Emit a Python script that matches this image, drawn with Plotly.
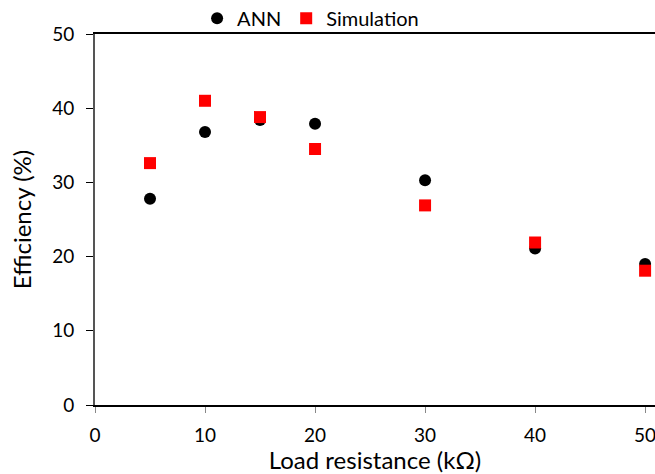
import plotly.graph_objects as go

load_kohm = [5, 10, 15, 20, 30, 40, 50]
ann_eff = [27.8, 36.8, 38.4, 37.9, 30.3, 21.1, 19.0]
sim_eff = [32.6, 41.0, 38.8, 34.5, 26.9, 21.9, 18.1]
x_ticks = [0, 10, 20, 30, 40, 50]
y_ticks = [0, 10, 20, 30, 40, 50]

font_family = "Lato, Open Sans, sans-serif"

fig = go.Figure()
fig.add_trace(go.Scatter(x=load_kohm, y=ann_eff, mode="markers", name="ANN",
                         marker=dict(symbol="circle", size=12, color="black"),
                         cliponaxis=False))
fig.add_trace(go.Scatter(x=load_kohm, y=sim_eff, mode="markers", name="Simulation",
                         marker=dict(symbol="square", size=12, color="#ff0000"),
                         cliponaxis=False))

fig.update_layout(
    width=655, height=474,
    margin=dict(l=95, r=0, t=34, b=69, autoexpand=False),
    paper_bgcolor="white", plot_bgcolor="white",
    font=dict(family=font_family, size=18, color="black"),
    showlegend=True,
    legend=dict(orientation="h", x=0.385, y=0.99, xanchor="center", yanchor="bottom",
                font=dict(size=20), itemwidth=30, tracegroupgap=0,
                bgcolor="rgba(0,0,0,0)"),
    xaxis=dict(range=[0, 50.9], tickvals=x_ticks, ticks="outside", ticklen=6,
               tickcolor="#888", showgrid=False, zeroline=False, automargin=False,
               showline=True, linecolor="black", linewidth=2, mirror=True,
               ticklabelstandoff=6, ticklabeloverflow="allow",
               title=dict(text="Load resistance (kΩ)", font=dict(size=24), standoff=4),
               tickfont=dict(size=19)),
    yaxis=dict(range=[0, 50], tickvals=y_ticks, ticks="outside", ticklen=7,
               tickcolor="black", showgrid=False, zeroline=False, automargin=False,
               showline=True, linecolor="#555", linewidth=2,
               ticklabelstandoff=8, ticklabeloverflow="allow",
               title=dict(text="Efficiency (%)", font=dict(size=24), standoff=14),
               tickfont=dict(size=19)),
)

fig.write_html("out.html", config={"displayModeBar": False},
               post_script="document.body.style.margin='0';document.body.style.overflow='hidden';")
